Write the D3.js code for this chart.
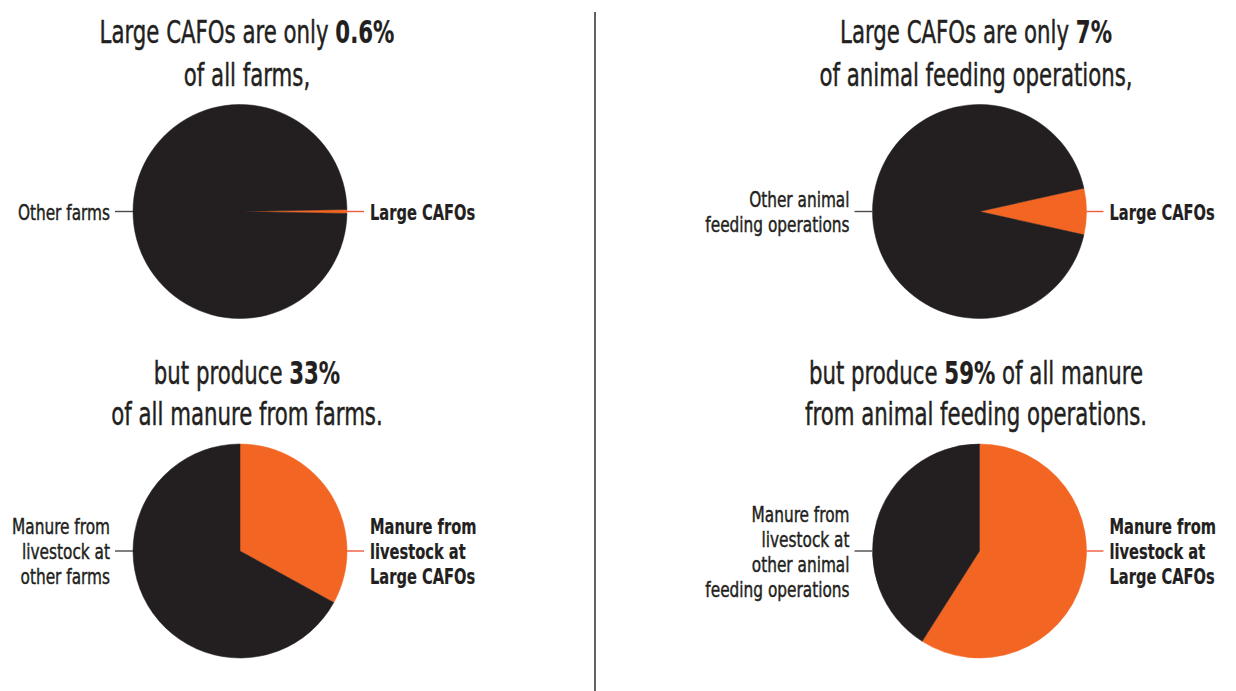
<!DOCTYPE html>
<html>
<head>
<meta charset="utf-8">
<script src="https://cdn.jsdelivr.net/npm/d3@7"></script>
<style>
  html, body { margin: 0; padding: 0; background: #ffffff; }
  svg { display: block; }
  text { font-family: "DejaVu Sans Condensed", "DejaVu Sans", sans-serif; fill: #231f20; }
</style>
</head>
<body>
<svg id="chart" width="1236" height="691"></svg>
<script>
// Share of Large CAFOs in each panel (percent)
const cafoShares = [0.6, 7, 33, 59];
// "count" pies centre the CAFO slice at 3 o'clock; "manure" pies start it at 12 o'clock
const pieKinds = ["count", "count", "manure", "manure"];

// Title lines: [text before bold, bold text, text after bold]
const titleLines = [
  [["Large CAFOs are only ", "0.6%", ""], ["of all farms,", "", ""]],
  [["Large CAFOs are only ", "7%", ""], ["of animal feeding operations,", "", ""]],
  [["but produce ", "33%", ""], ["of all manure from farms.", "", ""]],
  [["but produce ", "59%", " of all manure"], ["from animal feeding operations.", "", ""]]
];

// Slice labels
const otherLabels = [
  ["Other farms"],
  ["Other animal", "feeding operations"],
  ["Manure from", "livestock at", "other farms"],
  ["Manure from", "livestock at", "other animal", "feeding operations"]
];
const cafoLabels = [
  ["Large CAFOs"],
  ["Large CAFOs"],
  ["Manure from", "livestock at", "Large CAFOs"],
  ["Manure from", "livestock at", "Large CAFOs"]
];

const colors = { other: "#231f20", cafo: "#f26522", leaderOther: "#4a4a4a", leaderCafo: "#ef5b3a", text: "#231f20" };

const svg = d3.select("#chart");

// 2x2 grid layout
const colX = d3.scalePoint().domain([0, 1]).range([240, 979.5]);
const rowY = d3.scalePoint().domain([0, 1]).range([211.5, 551]);
const titleX = [247, 976];
const titleY = [[43, 86], [384, 425]];
const radius = 107;

// condensed type: glyphs narrowed horizontally
const TITLE_SIZE = 32, TITLE_SX = 0.74;
const LABEL_SIZE = 22, LABEL_SX = 0.775, BOLD_SX = 0.74;
const LINE_H = 25;

function condensedText(parent, x, y, sx, anchor, size, weight) {
  const g = parent.append("g").attr("transform", `translate(${x},${y}) scale(${sx},1)`);
  return g.append("text")
    .attr("text-anchor", anchor)
    .attr("font-size", size)
    .attr("font-weight", weight)
    .attr("stroke", colors.text)
    .attr("stroke-width", weight === "bold" ? 0.2 : 0.45)
    .attr("paint-order", "stroke");
}

// vertical divider
svg.append("line")
  .attr("x1", 595).attr("x2", 595)
  .attr("y1", 12).attr("y2", 691)
  .attr("stroke", "#3a3a3a").attr("stroke-width", 1.6);

const arc = d3.arc().innerRadius(0).outerRadius(radius);

cafoShares.forEach((share, i) => {
  const col = i % 2, row = Math.floor(i / 2);
  const cx = colX(col), cy = rowY(row);
  const g = svg.append("g").attr("transform", `translate(${cx},${cy})`);

  const values = [
    { key: "cafo", value: share },
    { key: "other", value: 100 - share }
  ];
  const start = pieKinds[i] === "count" ? Math.PI / 2 - (share / 100) * Math.PI : 0;
  const pie = d3.pie().value(d => d.value).sort(null)
    .startAngle(start).endAngle(start + 2 * Math.PI);

  g.selectAll("path.slice")
    .data(pie(values))
    .join("path")
    .attr("class", "slice")
    .attr("d", arc)
    .attr("fill", d => colors[d.data.key])
    .attr("stroke", d => colors[d.data.key])
    .attr("stroke-width", 0.5);

  // leader lines
  g.append("line")
    .attr("x1", -radius - 18).attr("x2", -radius)
    .attr("y1", 0).attr("y2", 0)
    .attr("stroke", colors.leaderOther).attr("stroke-width", 1.4);
  g.append("line")
    .attr("x1", radius).attr("x2", radius + 17)
    .attr("y1", 0).attr("y2", 0)
    .attr("stroke", colors.leaderCafo).attr("stroke-width", 1.4);

  // left (other) label, right-aligned
  const ol = otherLabels[i];
  ol.forEach((line, k) => {
    condensedText(g, -radius - 23, (k - (ol.length - 1) / 2) * LINE_H + 8, LABEL_SX, "end", LABEL_SIZE, "normal")
      .text(line);
  });

  // right (cafo) label, bold
  const cl = cafoLabels[i];
  cl.forEach((line, k) => {
    condensedText(g, radius + 23, (k - (cl.length - 1) / 2) * LINE_H + 8, BOLD_SX, "start", LABEL_SIZE, "bold")
      .text(line);
  });

  // title
  const tl = titleLines[i];
  titleY[row].forEach((y, k) => {
    const t = condensedText(svg, titleX[col], y, TITLE_SX, "middle", TITLE_SIZE, "normal");
    const [a, b, c] = tl[k];
    if (a) t.append("tspan").text(a);
    if (b) t.append("tspan").attr("font-weight", "bold").attr("stroke-width", 0.2).text(b);
    if (c) t.append("tspan").text(c);
  });
});
</script>
</body>
</html>
